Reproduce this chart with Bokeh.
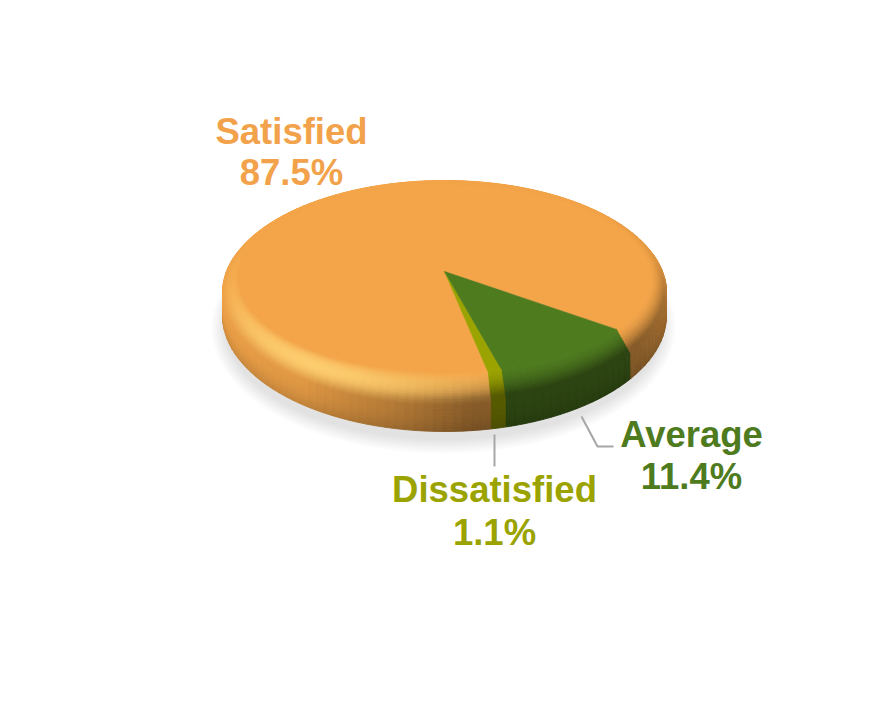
import numpy as np
from bokeh.plotting import figure
from bokeh.models import Range1d
from bokeh.core.properties import value
from bokeh.embed import file_html
from bokeh.resources import INLINE

# ---- data (drawn clockwise starting from the Average slice)
labels = ["Average", "Dissatisfied", "Satisfied"]
values = [11.4, 1.1, 87.5]
colors = ["#4F7B1F", "#9BA300", "#F4A549"]
start_angle = 123.0

label_x = [691, 494, 291]
label_y = [[434, 476], [489, 532], [131, 172]]

# ---- layout of the tilted disc, in page pixels
CX, APEX_Y = 444, 271
FLAT = (278, 206, 94)    # centre y, half width, half height of the flat top
RIM = (292, 222, 112)    # outer edge of the bevel
BASE = (315, 222, 116)   # bottom edge of the wall

# negative phi = right of the front, positive = left of the front
phi_stops = [-180, -135, -105, -85, -60, -7, 11, 40, 90, 120, 180]
wall_stops = [1.0, .99, .90, .68, .55, .55, .72, .92, .98, 1.0, 1.0]

p = figure(width=870, height=692, x_range=Range1d(0, 870), y_range=Range1d(692, 0),
           output_backend="svg", toolbar_location=None, min_border=0,
           outline_line_color=None, background_fill_color="white")
p.axis.visible = False
p.grid.visible = False


def rgb(h):
    return np.array([int(h[i:i + 2], 16) for i in (1, 3, 5)], float)


def to_hex(c):
    c = np.clip(c, 0, 255).astype(int)
    return "#%02x%02x%02x" % tuple(c)


def ellipse_pts(e, th):
    return CX + e[1] * np.sin(th), e[0] - e[2] * np.cos(th)


def lerp(e0, e1, t):
    return tuple(a + (b - a) * t for a, b in zip(e0, e1))


# soft ground shadow
for k in range(10):
    grow = 10 - k * 1.6
    th = np.linspace(0, 2 * np.pi, 160)
    x = CX - 1 + (222 + grow) * np.sin(th)
    y = 327 - (116 + grow) * np.cos(th)
    p.patch(x, y, fill_color="#a8a8a8", fill_alpha=0.04, line_color=None)

# slice angle spans from the values
spans = []
a0 = start_angle
for v, c in zip(values, colors):
    a1 = a0 + v / 100 * 360
    spans.append((a0, a1, c))
    a0 = a1


def phi_of(deg):
    return (deg % 360) - 180


def shade(deg, t_bevel, t_wall):
    ph = phi_of(deg)
    w = np.interp(ph, phi_stops, wall_stops)
    if t_wall is not None:
        return w * (1 - 0.14 * t_wall ** 2), 0.0
    f = 1 + (w - 1) * min(1.0, t_bevel * 1.25) ** 1.6
    h = np.exp(-((ph - 38) / 45) ** 2) * np.sin(np.pi * t_bevel ** 0.8) * 0.9
    return f, h


LIGHT = rgb("#FFD272")
bands = []
for i in range(12):            # wall, bottom first
    t0, t1 = 1 - (i + 1) / 12, 1 - i / 12
    bands.append((lerp(RIM, BASE, t1), lerp(RIM, BASE, t0), None, (t0 + t1) / 2))
for i in range(16):           # bevel, outer first
    t0, t1 = 1 - (i + 1) / 16, 1 - i / 16
    bands.append((lerp(FLAT, RIM, t1), lerp(FLAT, RIM, t0), (t0 + t1) / 2, None))

for outer, inner, tb, tw in bands:
    xs, ys, cols = [], [], []
    for a0, a1, c in spans:
        n = max(2, int((a1 - a0) / 2.5))
        edges = np.linspace(a0, a1, n + 1)
        base = rgb(c)
        for d0, d1 in zip(edges[:-1], edges[1:]):
            mid = (d0 + d1) / 2
            if tw is not None and abs(phi_of(mid)) > 110:
                continue
            f, h = shade(mid, tb, tw)
            col = base * f
            if c == colors[2]:
                col = col * (1 - h) + LIGHT * h
            th = np.radians([d0, d1])
            xo, yo = ellipse_pts(outer, th)
            xi, yi = ellipse_pts(inner, th)
            xs.append([xo[0], xo[1], xi[1], xi[0]])
            ys.append([yo[0], yo[1], yi[1], yi[0]])
            cols.append(to_hex(col))
    p.patches(xs, ys, fill_color=cols, line_color=cols, line_width=0.9)

# flat top: wedges from the apex
for a0, a1, c in reversed(spans):
    th = np.radians(np.linspace(a0, a1, max(3, int(a1 - a0))))
    x, y = ellipse_pts(FLAT, th)
    p.patch(np.r_[CX, x], np.r_[APEX_Y, y], fill_color=c, line_color=c, line_width=0.6)

# leader lines
p.line([494, 494], [434, 466], line_color="#a6a6a6", line_width=2)
p.line([581, 597, 613], [416, 446, 446], line_color="#a6a6a6", line_width=2)

# labels
for lab, v, c, lx, ly in zip(labels, values, colors, label_x, label_y):
    tc = "#F2A24A" if c == colors[2] else c
    for txt, yy in ((lab, ly[0]), (f"{v}%", ly[1])):
        p.text([lx], [yy], text=[txt], text_align="center", text_baseline="middle",
               text_font=value("Liberation Sans"), text_font_style="bold",
               text_font_size="36.5px", text_color=tc)

open("out.html", "w").write(file_html(p, INLINE))
